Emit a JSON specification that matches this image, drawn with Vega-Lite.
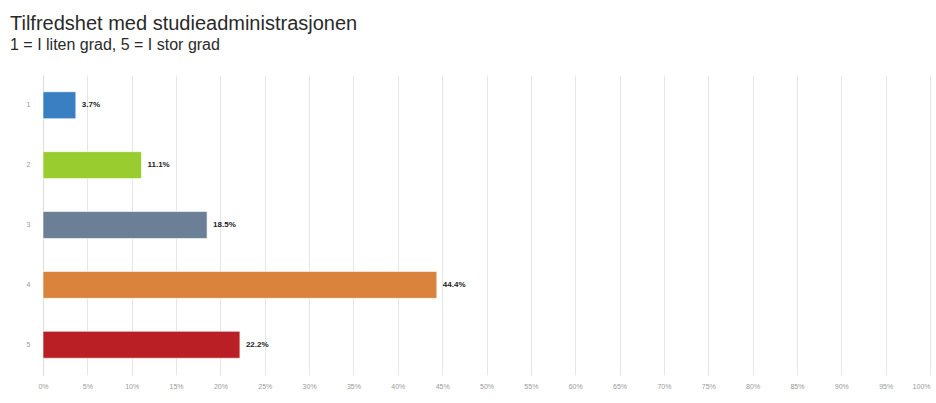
{
  "$schema": "https://vega.github.io/schema/vega-lite/v6.json",
  "width": 887,
  "height": 300,
  "autosize": {"type": "none"},
  "padding": {"left": 43, "top": 75, "right": 6, "bottom": 28},
  "background": "white",
  "title": {
    "text": "Tilfredshet med studieadministrasjonen",
    "subtitle": "1 = I liten grad, 5 = I stor grad",
    "anchor": "start",
    "frame": "group",
    "dx": -33,
    "offset": 22,
    "font": "Liberation Sans",
    "fontSize": 20,
    "fontWeight": "normal",
    "color": "#2a2a2a",
    "subtitleFont": "Liberation Sans",
    "subtitleFontSize": 16,
    "subtitleColor": "#2a2a2a",
    "subtitlePadding": 3
  },
  "data": {
    "values": [
      {"kategori": "1", "andel": 0.037},
      {"kategori": "2", "andel": 0.111},
      {"kategori": "3", "andel": 0.185},
      {"kategori": "4", "andel": 0.444},
      {"kategori": "5", "andel": 0.222}
    ]
  },
  "config": {"view": {"stroke": null}},
  "encoding": {
    "y": {
      "field": "kategori",
      "type": "nominal",
      "sort": ["1", "2", "3", "4", "5"],
      "scale": {"paddingInner": 0.55, "paddingOuter": 0.28},
      "axis": {
        "title": null,
        "labelFontSize": 7,
        "labelColor": "#999999",
        "labelFont": "Liberation Sans",
        "ticks": false,
        "labelPadding": 13,
        "domainColor": "#dddddd",
        "grid": false
      }
    },
    "x": {
      "field": "andel",
      "type": "quantitative",
      "scale": {"domain": [0, 1], "nice": false},
      "axis": {
        "title": null,
        "values": [0, 0.05, 0.1, 0.15, 0.2, 0.25, 0.3, 0.35, 0.4, 0.45, 0.5, 0.55, 0.6, 0.65, 0.7, 0.75, 0.8, 0.85, 0.9, 0.95, 1],
        "format": ".0%",
        "labelFontSize": 7,
        "labelColor": "#999999",
        "labelFont": "Liberation Sans",
        "labelAlign": {"expr": "datum.value >= 1 ? 'right' : 'center'"},
        "ticks": false,
        "domain": false,
        "grid": true,
        "gridColor": "#e6e6e6",
        "labelPadding": 7,
        "labelBound": false,
        "labelFlush": false
      }
    }
  },
  "layer": [
    {
      "mark": {"type": "bar", "stroke": "white", "strokeOpacity": 0.6, "strokeWidth": 1},
      "encoding": {
        "color": {
          "field": "kategori",
          "type": "nominal",
          "scale": {
            "domain": ["1", "2", "3", "4", "5"],
            "range": ["#3a7fc1", "#98cc2f", "#6b7f96", "#d9833c", "#b91f24"]
          },
          "legend": null
        }
      }
    },
    {
      "mark": {"type": "text", "align": "left", "baseline": "middle", "dx": 6, "fontSize": 8, "fontWeight": "bold", "font": "Liberation Sans", "color": "#222222"},
      "encoding": {
        "text": {"field": "andel", "type": "quantitative", "format": ".1%"}
      }
    }
  ]
}
